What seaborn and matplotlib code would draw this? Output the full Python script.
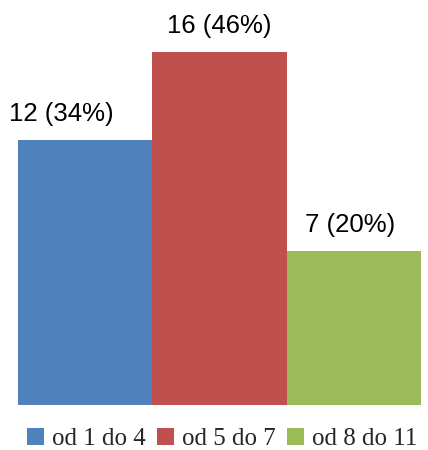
import matplotlib
matplotlib.use("Agg")
import matplotlib.pyplot as plt
from matplotlib.patches import Patch
import seaborn as sns
import pandas as pd

categories = ["od 1 do 4", "od 5 do 7", "od 8 do 11"]
counts = [12, 16, 7]
percents = [34, 46, 20]
colors = ["#4F81BD", "#C0504D", "#9BBB59"]

df = pd.DataFrame({"grupa": categories, "liczba": counts})

sns.set_style("white")
fig = plt.figure(figsize=(4.28, 4.5), dpi=100)
ax = fig.add_axes([18 / 428, 1 - 405 / 450, 403 / 428, 397 / 450])

sns.barplot(data=df, x="grupa", y="liczba", hue="grupa", palette=colors,
            width=1.0, saturation=1, legend=False, linewidth=0,
            edgecolor="none", ax=ax)
ax.set_xlim(-0.5, 2.5)
ax.set_ylim(0, 18)
for s in ax.spines.values():
    s.set_visible(False)
ax.set_xticks([])
ax.set_yticks([])
ax.set_xlabel("")
ax.set_ylabel("")

label_shift = [-24, 0, -4]
for i, (c, p) in enumerate(zip(counts, percents)):
    ax.annotate(f"{c} ({p}%)", xy=(i, c), xytext=(label_shift[i], 14),
                textcoords="offset pixels", ha="center", va="bottom",
                fontsize=18.5, family="Liberation Sans", color="#000000")

handles = [Patch(facecolor=col, edgecolor="none") for col in colors]
fig.legend(handles, categories, loc="lower center", ncol=3,
           bbox_to_anchor=(0.518, -0.05), frameon=False,
           prop={"family": "Liberation Serif", "size": 18},
           handlelength=0.7, handleheight=0.7, handletextpad=0.3,
           columnspacing=0.45)

fig.savefig("out.png", dpi=100)
